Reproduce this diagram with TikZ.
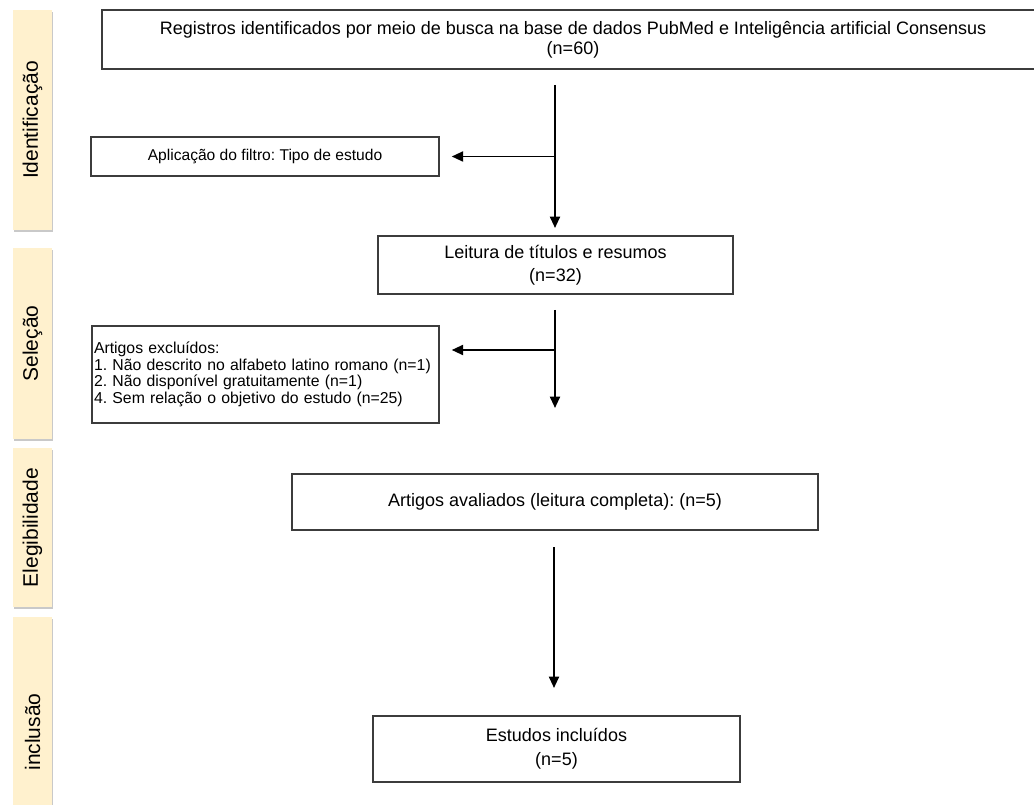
\documentclass[tikz,border=0pt]{standalone}
\usepackage{fontspec}
\setmainfont{Liberation Sans}
\usetikzlibrary{arrows.meta,shadows}
\definecolor{phasefill}{RGB}{255,241,206}
\definecolor{edgegray}{RGB}{60,60,60}
\frenchspacing
\begin{document}
\begin{tikzpicture}[x=0.75pt,y=-0.75pt,
  box/.style={draw=edgegray,line width=1.1pt,rectangle,inner sep=0pt,align=center,font=\fontsize{13.5pt}{15pt}\selectfont},
  phase/.style={fill=phasefill,draw=none,rectangle,inner sep=0pt,
    drop shadow={shadow xshift=1pt,shadow yshift=-1.3pt,opacity=0.3,fill=black!70},
    font=\fontsize{15.75pt}{18pt}\selectfont},
  arr/.style={line width=1.4pt,draw=black,-{Triangle[width=7.5pt,length=8.5pt]}}]
\clip (0,0) rectangle (1034,805);
\useasboundingbox (0,0) rectangle (1034,805);

% phase labels
\node[phase,minimum width=39*0.75pt,minimum height=220*0.75pt] (p1) at (32.5,120) {\rotatebox{90}{Identificação}};
\node[phase,minimum width=39*0.75pt,minimum height=191*0.75pt] (p2) at (32.5,343.5) {\rotatebox{90}{Seleção}};
\node[phase,minimum width=39*0.75pt,minimum height=159*0.75pt] (p3) at (32.5,527.5) {\rotatebox{90}{Elegibilidade}};
\node[phase,minimum width=39*0.75pt,minimum height=230*0.75pt] (p4) at (32.5,732) {\rotatebox{90}{inclusão}};

% boxes
\node[box,minimum width=942*0.75pt,minimum height=59*0.75pt] (reg) at (573,39.5)
  {Registros identificados por meio de busca na base de dados PubMed e Inteligência artificial Consensus\\(n=60)};
\node[box,minimum width=348*0.75pt,minimum height=39*0.75pt,font=\fontsize{11.7pt}{14pt}\selectfont] (filt) at (265,156.5)
  {Aplicação do filtro: Tipo de estudo};
\node[box,minimum width=355*0.75pt,minimum height=58*0.75pt,font=\fontsize{13.5pt}{17pt}\selectfont] (lei) at (555.5,265)
  {Leitura de títulos e resumos\\(n=32)};
\node[box,minimum width=347*0.75pt,minimum height=97*0.75pt,align=left,text width=343*0.75pt,
  font=\fontsize{11.85pt}{12.5pt}\selectfont] (excl) at (265.5,374.5)
  {Artigos excluídos:\\1. Não descrito no alfabeto latino romano (n=1)\\2. Não disponível gratuitamente (n=1)\\4. Sem relação o objetivo do estudo (n=25)};
\node[box,minimum width=526*0.75pt,minimum height=56*0.75pt] (aval) at (555,502)
  {Artigos avaliados (leitura completa): (n=5)};
\node[box,minimum width=367*0.75pt,minimum height=66*0.75pt,font=\fontsize{13.5pt}{18pt}\selectfont] (inc) at (556.5,749)
  {Estudos incluídos\\(n=5)};

% connectors
\coordinate (v1a) at (555,85);
\coordinate (v1b) at (555,228);
\coordinate (h1) at (555,156.5);
\draw[arr] (v1a) -- (v1b);
\draw[arr,shorten >=9pt] (h1) -- (filt.east);

\coordinate (v2a) at (555,310);
\coordinate (v2b) at (555,408);
\coordinate (h2) at (555,350);
\draw[arr] (v2a) -- (v2b);
\draw[arr,shorten >=9pt] (h2) -- (h2 -| excl.east);

\coordinate (v3a) at (554,547);
\coordinate (v3b) at (554,688);
\draw[arr] (v3a) -- (v3b);
\end{tikzpicture}
\end{document}
